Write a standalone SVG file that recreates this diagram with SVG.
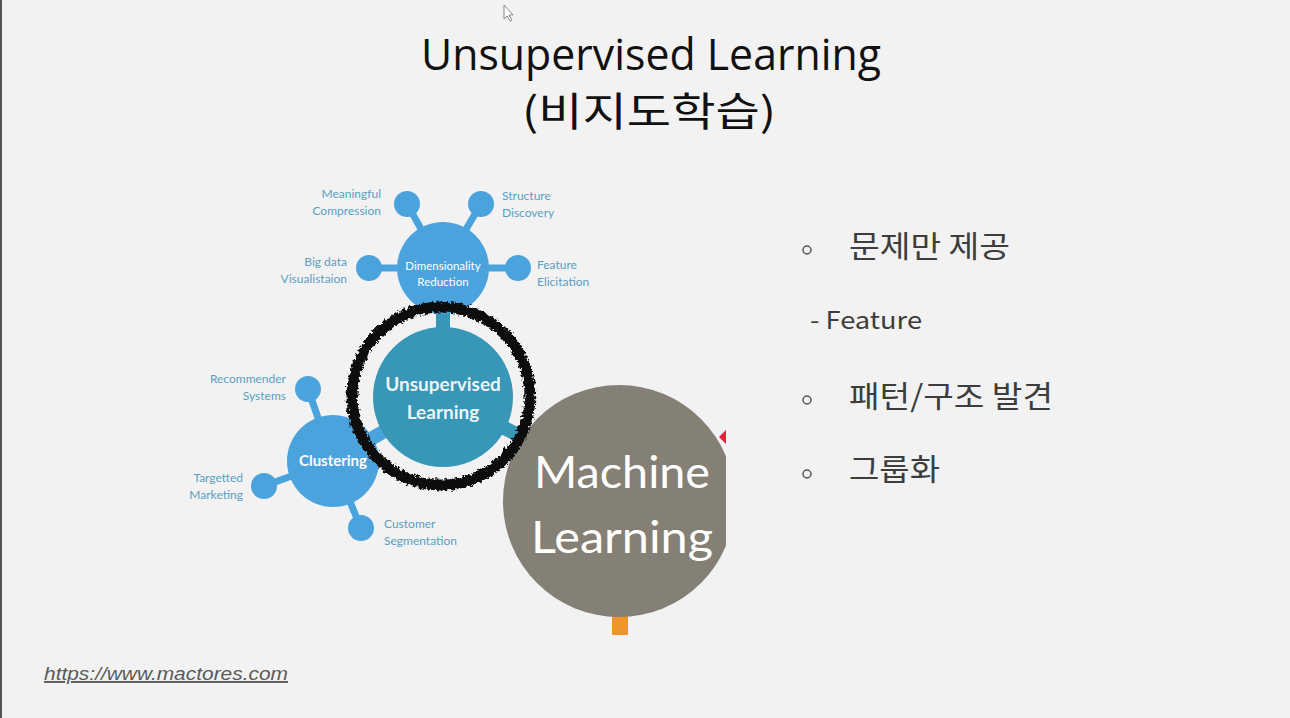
<svg xmlns="http://www.w3.org/2000/svg" width="1290" height="718" viewBox="0 0 1290 718">
<style>
.title{font-family:"Open Sans","Noto Sans CJK KR",sans-serif;fill:#111;}
.lbl{font-family:Lato,"Open Sans",sans-serif;font-size:12px;fill:#5a9fc2;}
.wt{font-family:Lato,"Open Sans",sans-serif;fill:#fff;text-anchor:middle;}
.bul{font-family:"Noto Sans CJK KR","Noto Sans",sans-serif;fill:#3d3d3d;}
.blue{fill:#4ba3de;}
.sat{stroke:#4ba3de;stroke-width:7;}
.stub{stroke-width:14;}
.dot{fill:none;stroke:#555;stroke-width:1.5;}
</style>
<defs>
<filter id="rough" x="-20%" y="-20%" width="140%" height="140%">
<feTurbulence type="fractalNoise" baseFrequency="0.35" numOctaves="2" seed="3" result="n"/>
<feDisplacementMap in="SourceGraphic" in2="n" scale="7" xChannelSelector="R" yChannelSelector="G"/>
</filter>
<clipPath id="mlclip"><rect x="0" y="0" width="726" height="718"/></clipPath>
</defs>
<rect width="1290" height="718" fill="#f2f2f2"/>
<rect x="0" y="0" width="2" height="718" fill="#555"/>
<path d="M504,5 L504,19 L507,16 L510,21 L512,20 L509,15 L513,15 Z" fill="#fff" stroke="#888" stroke-width="1"/>

<g id="title">
<text class="title" x="651" y="70" font-size="43" text-anchor="middle" textLength="460" lengthAdjust="spacingAndGlyphs">Unsupervised Learning</text>
<text x="649" y="126" font-family="Noto Sans CJK KR,sans-serif" fill="#111" font-size="40" text-anchor="middle" textLength="254" lengthAdjust="spacingAndGlyphs">(비지도학습)</text>
</g>

<g id="connectors">
<line x1="443" y1="268" x2="407" y2="204" class="sat"/>
<line x1="443" y1="268" x2="481" y2="204" class="sat"/>
<line x1="443" y1="268" x2="369" y2="268" class="sat"/>
<line x1="443" y1="268" x2="518" y2="268" class="sat"/>
<line x1="333" y1="461" x2="308" y2="389" class="sat"/>
<line x1="333" y1="461" x2="264" y2="486" class="sat"/>
<line x1="333" y1="461" x2="361" y2="528" class="sat"/>
<line x1="443" y1="268" x2="443" y2="397" stroke="#3896b6" class="stub"/>
<line x1="443" y1="397" x2="333" y2="461" stroke="#4ba3de" class="stub"/>
<line x1="443" y1="397" x2="540" y2="446" stroke="#3896b6" class="stub"/>
</g>

<g id="dimred">
<circle cx="443" cy="268" r="46" class="blue"/>
<text class="wt" x="443" y="270" font-size="11.5">Dimensionality</text>
<text class="wt" x="443" y="286" font-size="11.5">Reduction</text>
</g>
<g id="sat-meaningful">
<circle cx="407" cy="204" r="13" class="blue"/>
<text class="lbl" x="381" y="198" text-anchor="end">Meaningful</text>
<text class="lbl" x="381" y="215" text-anchor="end">Compression</text>
</g>
<g id="sat-structure">
<circle cx="481" cy="204" r="13" class="blue"/>
<text class="lbl" x="502" y="200">Structure</text>
<text class="lbl" x="502" y="217">Discovery</text>
</g>
<g id="sat-bigdata">
<circle cx="369" cy="268" r="13" class="blue"/>
<text class="lbl" x="347" y="266" text-anchor="end">Big data</text>
<text class="lbl" x="347" y="283" text-anchor="end">Visualistaion</text>
</g>
<g id="sat-feature">
<circle cx="518" cy="268" r="13" class="blue"/>
<text class="lbl" x="537" y="269">Feature</text>
<text class="lbl" x="537" y="286">Elicitation</text>
</g>

<g id="clustering">
<circle cx="333" cy="461" r="46" class="blue"/>
<text class="wt" x="333" y="466" font-size="15" font-weight="bold">Clustering</text>
</g>
<g id="sat-recommender">
<circle cx="308" cy="389" r="13" class="blue"/>
<text class="lbl" x="286" y="383" text-anchor="end">Recommender</text>
<text class="lbl" x="286" y="400" text-anchor="end">Systems</text>
</g>
<g id="sat-targetted">
<circle cx="264" cy="486" r="13" class="blue"/>
<text class="lbl" x="243" y="482" text-anchor="end">Targetted</text>
<text class="lbl" x="243" y="499" text-anchor="end">Marketing</text>
</g>
<g id="sat-customer">
<circle cx="361" cy="528" r="13" class="blue"/>
<text class="lbl" x="384" y="528">Customer</text>
<text class="lbl" x="384" y="545">Segmentation</text>
</g>

<g id="machine-learning">
<g clip-path="url(#mlclip)">
<rect x="612" y="610" width="16" height="25" fill="#f0952b"/>
<circle cx="619" cy="501" r="116" fill="#858075"/>
<polygon points="719,437 726,430 726,444" fill="#e0243a"/>
</g>
<text class="wt" x="622" y="488" font-size="44" textLength="176" lengthAdjust="spacingAndGlyphs">Machine</text>
<text class="wt" x="622" y="553" font-size="44" textLength="182" lengthAdjust="spacingAndGlyphs">Learning</text>
</g>

<g id="unsupervised">
<circle cx="443" cy="397" r="70" fill="#3896b6"/>
<text class="wt" x="443" y="391" font-size="19" font-weight="bold" fill-opacity="0.92">Unsupervised</text>
<text class="wt" x="443" y="419" font-size="19" font-weight="bold" fill-opacity="0.92">Learning</text>
<circle cx="441" cy="396" r="89" fill="none" stroke="#111" stroke-width="11" filter="url(#rough)"/>
</g>

<g id="bullets">
<circle cx="807" cy="250" r="4" class="dot"/>
<text class="bul" x="849" y="257" font-size="30" textLength="161" lengthAdjust="spacingAndGlyphs">문제만 제공</text>
<text class="bul" x="810" y="329" font-size="24" textLength="112" lengthAdjust="spacingAndGlyphs">- Feature</text>
<circle cx="807" cy="400" r="4" class="dot"/>
<text class="bul" x="849" y="407" font-size="30" textLength="204" lengthAdjust="spacingAndGlyphs">패턴/구조 발견</text>
<circle cx="807" cy="474" r="4" class="dot"/>
<text class="bul" x="849" y="480" font-size="30" textLength="91" lengthAdjust="spacingAndGlyphs">그룹화</text>
</g>

<g id="url">
<text x="44" y="680" font-family="Liberation Sans,Arial,sans-serif" font-size="19" font-style="italic" fill="#5a5a5a" text-decoration="underline" textLength="244" lengthAdjust="spacingAndGlyphs">https://www.mactores.com</text>
</g>
</svg>
